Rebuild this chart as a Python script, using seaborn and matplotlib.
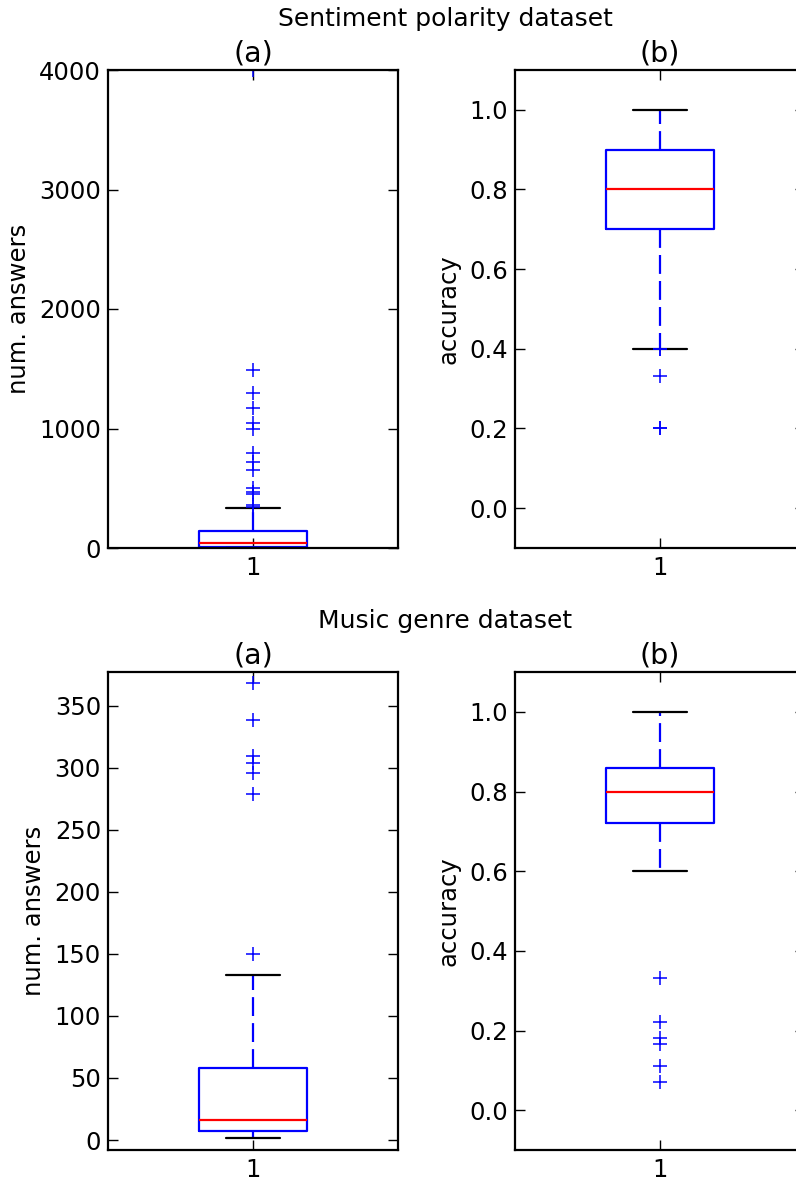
import matplotlib
matplotlib.use("Agg")
import matplotlib.pyplot as plt
import pandas as pd
import seaborn as sns

# samples (quartiles, whiskers and outliers)
senti_answers = [1, 1, 1, 2, 2, 3, 3, 4, 5, 5, 6, 7, 8, 8, 9,
                 10,
                 12, 14, 15, 17, 19, 20, 22, 25, 27, 30, 33, 35, 38, 40,
                 42,
                 45, 50, 55, 60, 66, 72, 80, 88, 95, 104, 112, 120, 128, 135,
                 142,
                 335,
                 345, 360, 452, 472, 500, 653, 722, 792, 1000, 1045, 1170, 1300, 1490, 4000]
senti_accuracy = [0.2, 0.2, 0.333, 0.399, 0.399, 0.4,
                  0.7, 0.7, 0.7, 0.75, 0.8, 0.8, 0.8, 0.8, 0.85,
                  0.9, 0.9, 0.9, 0.9, 0.9, 1.0, 1.0, 1.0, 1.0, 1.0]
music_answers = [2, 3, 3, 4, 4, 5, 5, 6, 6, 6,
                 7,
                 8, 9, 10, 11, 12, 13, 14, 15, 15,
                 16,
                 18, 20, 23, 27, 31, 36, 42, 48, 53,
                 58,
                 80, 105, 133,
                 150, 279, 296, 304, 309, 338, 368]
music_accuracy = [0.071, 0.111, 0.167, 0.182, 0.222, 0.333,
                  0.6, 0.65, 0.7, 0.71,
                  0.72,
                  0.73, 0.75, 0.75, 0.77, 0.78, 0.78, 0.8, 0.8, 0.8,
                  0.8,
                  0.8, 0.8, 0.82, 0.83, 0.83, 0.85, 0.85, 0.86, 0.86,
                  0.86,
                  0.88, 0.9, 0.9, 0.92, 0.95, 1.0, 1.0, 1.0, 1.0, 1.0]

group_label = "1"
panel_titles = ["(a)", "(b)"]
dataset_titles = ["Sentiment polarity dataset", "Music genre dataset"]
senti_answer_ticks = [0, 1000, 2000, 3000, 4000]
music_answer_ticks = [0, 50, 100, 150, 200, 250, 300, 350]
accuracy_ticks = [0.0, 0.2, 0.4, 0.6, 0.8, 1.0]

sns.set_theme(style="ticks", rc={
    "xtick.direction": "in", "ytick.direction": "in",
    "xtick.top": True, "ytick.right": True,
    "xtick.major.size": 7, "ytick.major.size": 7,
    "xtick.major.width": 1.0, "ytick.major.width": 1.0,
    "xtick.major.pad": 6, "ytick.major.pad": 5,
    "axes.linewidth": 1.6, "axes.edgecolor": "black",
    "xtick.color": "black", "ytick.color": "black",
    "text.color": "black", "axes.labelcolor": "black",
})
plt.rcParams["font.family"] = ["DejaVu Sans"]

fig = plt.figure(figsize=(7.96, 11.8), dpi=100)


def draw_box(rect, values, ylim, yticks, fmt, ylabel, title):
    ax = fig.add_axes(rect)
    df = pd.DataFrame({"run": group_label, "value": values})
    sns.boxplot(data=df, x="run", y="value", ax=ax, fill=False, width=0.375,
                linecolor="blue", linewidth=1.6,
                boxprops=dict(color="blue"),
                medianprops=dict(color="red"),
                whiskerprops=dict(color="blue", linestyle=(0, (8.5, 3.2))),
                capprops=dict(color="black"),
                flierprops=dict(marker="+", markeredgecolor="blue",
                                markersize=10, markeredgewidth=1.1))
    ax.set_xlim(-0.5, 0.5)
    ax.set_ylim(*ylim)
    ax.set_yticks(yticks)
    ax.set_yticklabels([fmt.format(t) for t in yticks])
    ax.set_xlabel("")
    ax.set_ylabel(ylabel, fontsize=17.5, labelpad=6)
    ax.set_title(title, fontsize=20.5, pad=6)
    ax.tick_params(labelsize=17.5)
    for s in ax.spines.values():
        s.set_visible(True)
    return ax


W, H = 796, 1180
for row, (name, answers, acc, aticks, alim) in enumerate([
        (dataset_titles[0], senti_answers, senti_accuracy, senti_answer_ticks, (0, 4000)),
        (dataset_titles[1], music_answers, music_accuracy, music_answer_ticks, (-8, 377))]):
    top = 70 + row * 602
    bottom = top + 478
    y0 = (H - bottom) / H
    h = 478 / H
    draw_box([108 / W, y0, 290 / W, h], answers, alim, aticks, "{:d}",
             "num. answers", panel_titles[0])
    draw_box([515 / W, y0, 290 / W, h], acc, (-0.1, 1.1), accuracy_ticks, "{:.1f}",
             "accuracy", panel_titles[1])
    fig.text(445 / W, 1 - (19 + row * 602) / H, name, ha="center", va="center",
             fontsize=18)

fig.savefig("out.png", dpi=100)
